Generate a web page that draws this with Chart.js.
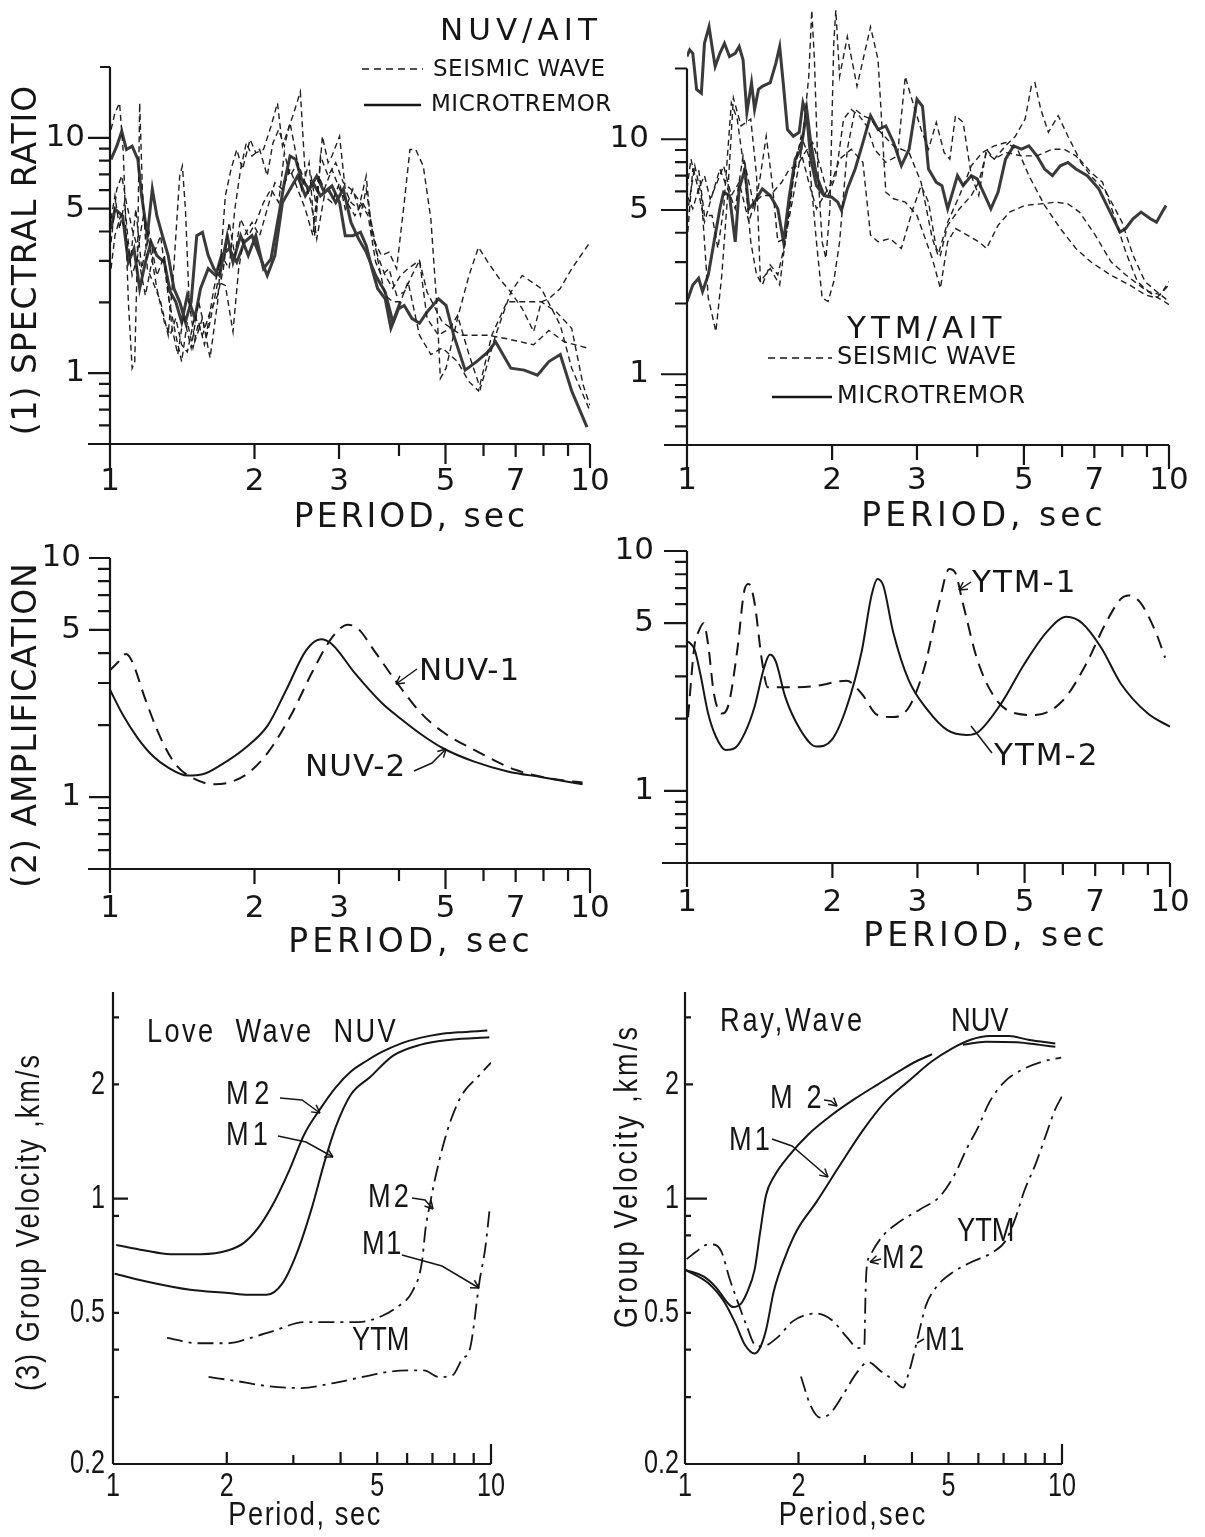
<!DOCTYPE html>
<html>
<head>
<meta charset="utf-8">
<script src="https://cdn.jsdelivr.net/npm/chart.js@4.4.1/dist/chart.umd.min.js"></script>
<style>
  body { margin: 0; background: #fff; }
  #page { position: relative; width: 1205px; height: 1537px; overflow: hidden; background: #fff; }
  #page canvas { position: absolute; left: 0; top: 0; }
</style>
</head>
<body>
<div id="page"></div>
<script>
// ---- tick labels ----
const periodLabels = [1, 2, 3, 5, 7, 10];
const ratioLabels = [10, 5, 1];
const velPeriodLabels = [1, 2, 5, 10];
const velLabels = [2, 1, 0.5, 0.2];

// ---- (1) spectral ratio NUV/AIT  [period, ratio] ----
const nuvMicro1 = [[1.005,8.10],[1.033,9.22],[1.058,10.67],[1.082,8.92],[1.112,9.22],[1.143,8.10],[1.164,5.67],[1.196,3.84],[1.225,6.05],[1.252,4.67],[1.286,3.84],[1.322,3.16],[1.359,2.29],[1.397,2.01],[1.436,1.65],[1.476,2.01],[1.516,3.84],[1.558,3.97],[1.602,3.16],[1.646,2.78],[1.692,2.60],[1.755,3.84],[1.804,2.96],[1.871,3.84],[1.941,3.16],[2.013,3.84],[2.088,2.78],[2.165,3.06],[2.246,4.67],[2.308,6.45],[2.372,8.37],[2.438,8.10],[2.506,6.67],[2.599,6.05],[2.696,6.89],[2.796,5.86],[2.900,6.25],[3.008,5.31],[3.091,3.84],[3.206,3.84],[3.325,3.97],[3.418,3.49],[3.513,2.78],[3.610,2.29],[3.744,2.07],[3.848,1.55],[3.991,1.88],[4.102,1.94],[4.255,1.71],[4.413,1.63],[4.577,1.82],[4.834,2.07],[5.013,1.94],[5.200,1.45],[5.494,1.03],[5.804,1.12],[6.130,1.23],[6.358,1.36],[6.840,1.05],[7.292,1.03],[7.772,0.98],[8.209,1.12],[8.671,1.20],[9.160,0.84],[9.856,0.59]];
const nuvMicro2 = [[1.005,4.10],[1.024,4.98],[1.062,4.67],[1.092,2.96],[1.122,3.38],[1.153,2.29],[1.185,2.96],[1.218,3.60],[1.252,3.16],[1.298,2.96],[1.335,2.21],[1.371,2.01],[1.410,1.65],[1.449,2.14],[1.502,1.71],[1.544,2.29],[1.602,2.78],[1.661,2.60],[1.707,3.16],[1.771,3.38],[1.837,2.96],[1.905,3.60],[1.976,3.84],[2.050,3.16],[2.126,2.60],[2.205,3.16],[2.287,5.31],[2.372,6.05],[2.460,6.89],[2.552,5.67],[2.647,6.45],[2.745,5.67],[2.847,6.05],[2.953,5.31],[3.063,6.05],[3.177,4.37],[3.295,3.72],[3.418,3.27],[3.577,2.60],[3.744,2.21],[3.883,1.65],[4.028,2.01]];
const nuvSeis1 = [[1.005,10.84],[1.024,12.76],[1.047,14.06],[1.066,8.64],[1.092,2.01],[1.112,1.05],[1.126,1.12],[1.143,3.84],[1.153,14.06],[1.168,6.05],[1.196,2.78],[1.229,2.44],[1.275,2.01],[1.322,1.45],[1.359,2.87],[1.397,6.89],[1.415,7.59],[1.436,4.98],[1.462,2.01],[1.502,1.36],[1.558,1.71],[1.616,1.16],[1.676,2.01],[1.739,5.67],[1.787,7.35],[1.837,8.92],[1.888,7.35],[1.958,9.84],[2.013,8.64],[2.088,8.92],[2.165,11.20],[2.233,14.06],[2.287,9.22],[2.350,10.84],[2.415,12.76],[2.492,15.7],[2.552,6.89],[2.623,6.89],[2.696,4.98],[2.770,10.16],[2.847,7.84],[2.900,8.37],[3.008,10.16],[3.091,6.05],[3.177,5.31],[3.295,4.98],[3.418,6.89],[3.513,3.84],[3.676,3.16],[3.813,3.27],[3.955,2.78],[4.102,5.31],[4.216,8.92],[4.333,8.92],[4.494,7.59],[4.661,4.52],[4.790,2.01],[4.878,0.95],[5.013,1.05],[5.296,1.71],[5.596,2.60],[5.857,3.43],[6.130,2.96],[6.476,2.52],[6.840,2.21],[7.225,1.88],[7.631,1.50],[7.915,2.01],[8.209,2.07],[8.671,2.29],[9.160,2.78],[10,3.60]];
const nuvSeis2 = [[1.005,4.52],[1.024,5.67],[1.047,4.10],[1.072,5.31],[1.102,2.96],[1.132,4.98],[1.164,2.78],[1.207,3.97],[1.252,2.60],[1.298,3.16],[1.347,1.55],[1.384,1.20],[1.423,1.76],[1.476,1.28],[1.530,2.01],[1.587,1.45],[1.646,2.29],[1.707,3.16],[1.771,2.78],[1.820,4.98],[1.871,7.35],[1.923,9.52],[1.976,8.37],[2.050,8.92],[2.126,6.89],[2.185,9.52],[2.246,10.84],[2.308,9.22],[2.372,11.57],[2.438,8.64],[2.506,6.05],[2.599,7.84],[2.671,3.84],[2.745,8.37],[2.847,6.89],[2.953,7.84],[3.063,6.45],[3.177,6.05],[3.325,5.31],[3.449,4.67],[3.577,2.96],[3.676,2.60],[3.813,2.78],[3.955,2.14],[4.102,2.21],[4.255,2.60],[4.413,3.01],[4.577,1.71],[4.834,1.45],[5.106,1.55],[5.296,1.76],[5.596,1.20],[5.910,0.86],[6.358,1.45],[6.840,2.21],[7.225,2.60],[7.915,2.29],[8.671,1.60],[9.160,1.05],[10,0.69]];
const nuvSeis3 = [[1.005,2.78],[1.024,3.84],[1.052,4.67],[1.082,3.84],[1.112,2.60],[1.143,3.16],[1.185,2.14],[1.229,3.16],[1.275,3.84],[1.322,2.14],[1.371,1.45],[1.410,1.12],[1.449,1.65],[1.489,1.28],[1.530,1.65],[1.573,1.32],[1.616,1.65],[1.676,2.44],[1.739,2.36],[1.804,1.50],[1.854,2.78],[1.905,3.84],[1.976,4.37],[2.050,3.84],[2.126,4.98],[2.205,6.45],[2.287,6.05],[2.372,7.35],[2.460,6.05],[2.552,4.98],[2.647,3.84],[2.720,6.89],[2.796,6.05],[2.900,7.35],[3.008,6.05],[3.120,5.31],[3.236,4.67],[3.356,5.31],[3.481,4.67],[3.610,3.16],[3.744,2.60],[3.883,2.29],[4.028,2.60],[4.178,2.78],[4.413,3.01],[4.577,2.21],[4.922,1.65],[5.395,1.45],[6.130,1.45],[6.716,1.40],[7.631,1.32],[8.209,1.52],[8.831,1.36],[10,1.27]];
const nuvSeis4 = [[1.005,3.60],[1.033,6.05],[1.058,6.89],[1.082,5.31],[1.112,4.10],[1.143,3.38],[1.174,4.67],[1.207,3.60],[1.252,2.29],[1.298,1.65],[1.335,1.45],[1.371,1.71],[1.410,1.32],[1.449,1.23],[1.502,1.76],[1.558,1.45],[1.616,1.82],[1.676,2.14],[1.723,2.78],[1.771,4.37],[1.820,3.16],[1.871,4.52],[1.941,3.84],[2.013,4.37],[2.088,5.31],[2.165,6.05],[2.246,5.31],[2.308,8.64],[2.372,6.89],[2.460,7.84],[2.552,6.45],[2.623,5.31],[2.696,3.72],[2.796,5.67],[2.900,5.31],[3.008,6.45],[3.091,4.98],[3.206,6.05],[3.325,4.67],[3.418,6.05],[3.513,4.10],[3.643,2.78],[3.744,2.14],[3.883,2.01],[4.028,2.01],[4.178,2.44],[4.413,1.45],[4.661,1.20],[4.922,1.28],[5.296,1.12],[5.596,0.92],[5.857,0.84],[6.243,1.45],[6.716,2.01],[7.359,2.01],[7.915,2.01],[8.514,1.82],[9.160,1.55],[9.676,0.89],[10,0.73]];

// ---- (1) spectral ratio YTM/AIT ----
const ytmMicro1 = [[1,22.5],[1.013,24.0],[1.028,23.2],[1.047,16.3],[1.071,15.7],[1.087,25.6],[1.111,30.1],[1.127,24.8],[1.144,20.4],[1.170,23.2],[1.196,25.6],[1.225,22.5],[1.259,23.2],[1.283,24.8],[1.307,21.8],[1.331,13.0],[1.361,17.4],[1.381,13.4],[1.407,16.3],[1.433,16.8],[1.488,17.4],[1.529,21.1],[1.557,24.8],[1.586,16.8],[1.616,11.0],[1.662,10.3],[1.709,10.7],[1.740,14.3],[1.772,12.6],[1.806,8.23],[1.856,6.35],[1.925,5.76],[1.997,5.67],[2.055,5.40],[2.092,4.98],[2.151,6.15],[2.233,7.47],[2.317,9.68],[2.403,12.6],[2.491,11.0],[2.585,11.4],[2.683,9.68],[2.784,7.71],[2.889,9.07],[3.0,14.8],[3.08,13.8],[3.17,7.47],[3.29,6.56],[3.38,6.35],[3.474,5.06],[3.54,5.76],[3.64,7.0],[3.74,6.35],[3.889,7.0],[4.0,6.78],[4.15,5.76],[4.27,5.06],[4.419,5.95],[4.58,8.23],[4.76,9.37],[4.94,9.07],[5.12,9.37],[5.32,8.50],[5.52,7.47],[5.73,7.0],[5.95,7.71],[6.17,7.97],[6.41,7.47],[6.77,7.0],[7.15,6.15],[7.55,4.90],[7.91,4.03],[8.13,4.17],[8.42,4.59],[8.75,4.90],[9.15,4.59],[9.42,4.44],[9.68,4.90],[9.86,5.23]];
const ytmMicro2 = [[1,2.04],[1.028,2.40],[1.057,2.56],[1.077,2.25],[1.107,2.65],[1.138,3.66],[1.170,5.06],[1.191,5.95],[1.225,5.76],[1.259,3.66],[1.283,6.15],[1.319,7.47],[1.344,5.06],[1.381,5.40],[1.433,6.15],[1.488,5.76],[1.543,5.06],[1.586,3.66],[1.631,5.76],[1.677,8.23],[1.725,9.07],[1.772,13.4],[1.806,9.68],[1.856,7.0],[1.925,5.76]];
const ytmSeis1 = [[1,4.74],[1.038,7.71],[1.071,5.76],[1.107,2.11],[1.148,1.52],[1.181,2.65],[1.214,5.76],[1.248,15.0],[1.295,11.4],[1.356,12.2],[1.394,7.0],[1.420,2.48],[1.488,2.82],[1.557,2.40],[1.631,5.06],[1.692,8.78],[1.740,10.3],[1.789,18.5],[1.815,35.4],[1.838,21.8],[1.871,7.0],[1.907,3.66],[1.942,3.11],[1.979,5.06],[2.016,25.6],[2.036,35.4],[2.073,18.5],[2.151,27.3],[2.253,16.8],[2.403,30.1],[2.491,21.8],[2.585,5.95],[2.683,5.58],[2.837,5.40],[3.0,4.74],[3.228,3.11],[3.355,2.32],[3.474,3.66],[3.606,4.17],[3.813,3.91],[4.033,3.66],[4.182,3.43],[4.419,4.30],[4.668,4.90],[5.03,5.23],[5.42,5.31],[5.82,5.40],[6.17,5.31],[6.52,4.90],[7.03,3.91],[7.58,3.01],[8.13,2.65],[8.75,2.36],[9.26,2.18],[10,1.98]];
const ytmSeis2 = [[1,3.66],[1.028,7.47],[1.057,7.47],[1.087,4.74],[1.127,4.74],[1.159,3.43],[1.191,5.06],[1.236,14.3],[1.271,12.2],[1.319,7.0],[1.356,3.66],[1.394,2.65],[1.433,2.40],[1.488,2.92],[1.543,2.65],[1.600,3.66],[1.662,7.0],[1.725,10.3],[1.789,8.50],[1.856,3.66],[1.907,2.11],[1.962,2.04],[2.016,2.48],[2.073,3.66],[2.151,9.07],[2.233,13.4],[2.317,12.6],[2.403,12.2],[2.491,11.0],[2.683,9.37],[2.889,8.78],[3.06,6.56],[3.228,3.78],[3.317,3.21],[3.474,4.44],[3.676,5.76],[3.889,7.71],[4.10,8.78],[4.34,9.37],[4.58,9.68],[4.85,9.07],[5.12,7.0],[5.52,5.23],[5.95,4.17],[6.41,3.43],[6.88,3.01],[7.55,2.65],[8.28,2.40],[8.92,2.18],[9.42,2.11],[10,2.40]];
const ytmSeis3 = [[1,5.76],[1.028,5.06],[1.057,6.15],[1.087,7.0],[1.117,5.58],[1.148,6.35],[1.191,7.71],[1.236,5.76],[1.283,6.56],[1.344,4.44],[1.381,5.40],[1.433,5.76],[1.488,5.76],[1.572,6.56],[1.631,7.47],[1.692,7.71],[1.756,8.78],[1.822,9.68],[1.889,7.71],[1.962,5.76],[2.036,7.0],[2.113,12.2],[2.192,13.4],[2.275,12.6],[2.360,11.4],[2.449,9.07],[2.585,7.97],[2.733,8.50],[2.837,18.5],[2.916,15.2],[3.06,11.0],[3.17,9.07],[3.29,11.8],[3.415,8.78],[3.51,8.23],[3.606,12.6],[3.74,11.8],[3.889,7.0],[4.03,5.76],[4.18,9.07],[4.34,8.23],[4.58,9.37],[4.80,10.3],[5.03,12.2],[5.18,16.8],[5.27,17.4],[5.42,13.4],[5.62,10.7],[5.89,12.6],[6.17,10.3],[6.52,8.23],[6.88,7.24],[7.28,6.56],[7.69,4.74],[8.13,3.32],[8.6,2.48],[9.07,2.25],[9.6,2.18],[10,2.48]];
const ytmSeis4 = [[1,6.15],[1.019,8.23],[1.047,6.56],[1.087,4.44],[1.127,5.76],[1.170,7.47],[1.214,6.15],[1.259,5.06],[1.307,8.50],[1.344,6.56],[1.381,5.06],[1.420,7.0],[1.460,10.3],[1.502,6.56],[1.543,3.66],[1.600,3.78],[1.662,5.76],[1.725,8.78],[1.789,6.56],[1.856,5.06],[1.925,5.76],[1.997,6.56],[2.073,8.23],[2.192,9.07],[2.317,7.97],[2.403,3.91],[2.491,3.66],[2.637,3.78],[2.784,3.43],[2.943,5.06],[3.06,6.35],[3.17,5.40],[3.29,3.43],[3.355,3.21],[3.474,4.30],[3.676,5.06],[3.889,5.76],[4.03,6.56],[4.18,8.78],[4.34,8.23],[4.58,8.78],[4.94,8.50],[5.32,8.50],[5.73,9.07],[6.06,9.07],[6.41,8.50],[6.88,7.0],[7.41,5.95],[7.99,4.44],[8.42,3.21],[8.92,2.48],[9.42,2.25],[10,2.04]];

// ---- (2) amplification ----
const nuvAmp1 = [[1,3.39],[1.04,3.67],[1.08,3.97],[1.11,3.72],[1.185,2.56],[1.276,1.76],[1.37,1.37],[1.50,1.19],[1.65,1.13],[1.77,1.15],[1.94,1.26],[2.13,1.53],[2.38,2.19],[2.65,3.39],[2.90,4.64],[3.13,5.26],[3.30,5.02],[3.55,4.10],[3.97,2.99],[4.43,2.26],[4.94,1.87],[5.83,1.55],[6.99,1.30],[8.38,1.19],[9.65,1.15]];
const nuvAmp2 = [[1,2.81],[1.062,2.22],[1.143,1.76],[1.23,1.48],[1.32,1.33],[1.45,1.23],[1.56,1.245],[1.71,1.37],[1.91,1.60],[2.13,1.99],[2.33,2.81],[2.56,4.10],[2.75,4.57],[2.90,4.36],[3.24,3.29],[3.68,2.48],[4.04,2.12],[4.43,1.84],[4.94,1.60],[5.72,1.41],[6.74,1.28],[7.95,1.21],[9.65,1.13]];
const ytmAmp1 = [[1.005,2.03],[1.037,4.07],[1.057,4.62],[1.082,5.0],[1.106,4.07],[1.137,2.54],[1.18,2.10],[1.22,2.30],[1.27,3.82],[1.317,6.96],[1.342,7.29],[1.379,6.13],[1.43,3.47],[1.47,2.70],[1.66,2.70],[1.85,2.74],[2.14,2.88],[2.30,2.54],[2.48,2.07],[2.67,2.03],[2.88,2.23],[3.10,3.26],[3.33,6.13],[3.49,8.41],[3.59,8.14],[3.72,6.13],[4.00,3.47],[4.38,2.38],[4.81,2.10],[5.27,2.07],[6.0,2.38],[6.70,3.37],[7.33,4.92],[7.92,6.33],[8.2,6.53],[8.66,6.13],[9.33,4.62],[9.77,3.59]];
const ytmAmp2 = [[1.005,4.20],[1.037,3.88],[1.066,3.06],[1.106,2.10],[1.148,1.68],[1.202,1.48],[1.258,1.51],[1.317,1.74],[1.379,2.23],[1.444,3.26],[1.485,3.70],[1.526,3.47],[1.598,2.46],[1.719,1.79],[1.851,1.53],[1.994,1.63],[2.14,2.23],[2.30,3.82],[2.41,6.53],[2.48,7.65],[2.55,7.16],[2.67,4.62],[2.88,2.88],[3.15,2.17],[3.46,1.79],[3.79,1.71],[4.01,1.76],[4.47,2.31],[4.99,3.37],[5.57,4.62],[6.11,5.32],[6.58,5.0],[7.21,3.94],[7.92,2.79],[9.0,2.10],[10,1.85]];

// ---- (3) group velocity, Love wave ----
const loveNuvM2 = [[1.02,0.755],[1.205,0.731],[1.42,0.714],[1.71,0.714],[2.02,0.731],[2.21,0.762],[2.43,0.841],[2.67,0.979],[2.93,1.19],[3.21,1.48],[3.53,1.72],[3.88,1.96],[4.26,2.16],[4.67,2.30],[5.13,2.43],[5.77,2.56],[6.49,2.65],[7.29,2.71],[8.19,2.74],[9.78,2.77]];
const loveNuvM1 = [[1.01,0.634],[1.26,0.601],[1.60,0.575],[2.02,0.564],[2.27,0.558],[2.55,0.558],[2.80,0.596],[3.07,0.722],[3.37,0.957],[3.62,1.24],[3.88,1.54],[4.26,1.88],[4.79,2.09],[5.51,2.38],[6.49,2.54],[7.83,2.62],[9.9,2.66]];
const loveYtmM2 = [[1.39,0.43],[1.67,0.416],[2.02,0.416],[2.32,0.43],[2.67,0.449],[3.21,0.473],[3.79,0.473],[4.46,0.473],[5.13,0.49],[5.63,0.517],[6.19,0.569],[6.56,0.677],[6.72,0.841],[6.88,0.957],[7.13,1.14],[7.47,1.38],[7.83,1.61],[8.39,1.88],[9.22,2.09],[10,2.28]];
const loveYtmM1 = [[1.79,0.339],[2.11,0.331],[2.55,0.321],[3.15,0.317],[3.79,0.326],[4.57,0.339],[5.38,0.35],[6.19,0.353],[6.64,0.353],[7.29,0.339],[7.92,0.343],[8.39,0.378],[8.8,0.403],[9.33,0.608],[9.65,0.737],[9.94,0.957]];

// ---- (3) group velocity, Rayleigh wave ----
const rayNuvM2 = [[1,0.65],[1.125,0.622],[1.21,0.583],[1.30,0.53],[1.34,0.518],[1.41,0.53],[1.46,0.565],[1.53,0.65],[1.58,0.807],[1.64,1.02],[1.72,1.14],[1.89,1.30],[2.13,1.48],[2.45,1.66],[2.82,1.83],[3.25,2.0],[3.74,2.18],[4.11,2.30],[4.52,2.40]];
const rayNuvM2b = [[5.46,2.54],[6.29,2.59],[7.59,2.58],[8.74,2.54],[9.6,2.51]];
const rayNuvM1 = [[1,0.65],[1.15,0.60],[1.27,0.535],[1.36,0.47],[1.44,0.413],[1.53,0.391],[1.58,0.404],[1.64,0.45],[1.72,0.57],[1.85,0.708],[1.98,0.824],[2.23,0.979],[2.57,1.22],[2.96,1.51],[3.40,1.80],[3.92,2.04],[4.52,2.30],[5.09,2.48],[5.72,2.62],[6.43,2.68],[7.24,2.68],[8.14,2.62],[9.6,2.56]];
const rayYtmM2 = [[1.01,0.693],[1.07,0.724],[1.14,0.755],[1.19,0.757],[1.25,0.724],[1.31,0.62],[1.39,0.524],[1.46,0.46],[1.53,0.413],[1.60,0.408],[1.76,0.431],[1.93,0.475],[2.13,0.496],[2.23,0.498],[2.45,0.479],[2.69,0.431],[2.88,0.404],[2.99,0.408],[3.01,0.547],[3.03,0.65],[3.10,0.708],[3.32,0.79],[3.66,0.861],[4.21,0.938],[4.73,1.01],[5.20,1.16],[5.58,1.35],[5.99,1.54],[6.43,1.80],[7.07,2.04],[7.95,2.20],[8.94,2.30],[9.95,2.35]];
const rayYtmM1 = [[2.03,0.34],[2.15,0.286],[2.28,0.265],[2.42,0.271],[2.63,0.305],[2.85,0.347],[3.06,0.371],[3.32,0.35],[3.57,0.333],[3.79,0.318],[3.92,0.347],[4.06,0.395],[4.21,0.46],[4.36,0.524],[4.63,0.583],[5.09,0.636],[5.72,0.679],[6.58,0.724],[7.07,0.772],[7.5,0.88],[7.95,1.05],[8.53,1.24],[9.15,1.51],[9.6,1.72],[10,1.86]];

// ---------------------------------------------------------------
const tech = '"DejaVu Sans", "Liberation Sans", sans-serif';
const plain = '"Liberation Sans", Arial, sans-serif';
const INK = '#161616';
const NARROW = 0.8;   // horizontal squeeze for the narrow lettering of (3)

const dashSeis = { borderDash: [6, 4], borderWidth: 1.4, borderColor: '#202020', tension: 0 };
const solidMicro = { borderWidth: 3, borderColor: '#3a3a3a', tension: 0 };
const dashAmp = { borderDash: [13, 8], borderWidth: 2, borderColor: INK, cubicInterpolationMode: 'monotone' };
const solidAmp = { borderWidth: 2, borderColor: INK, cubicInterpolationMode: 'monotone' };
const dashDot = { borderDash: [16, 6, 3, 6], borderWidth: 1.8, borderColor: INK, cubicInterpolationMode: 'monotone' };
const solidVel = { borderWidth: 2, borderColor: INK, cubicInterpolationMode: 'monotone' };

const xTicksOut = [[1,24],[2,15],[3,15],[4,12],[5,20],[6,12],[7,13],[8,12],[9,12],[10,24]];
const xTicksIn = [[2,12],[3,9],[4,12],[5,12],[6,11],[7,11],[8,11],[9,11],[10,20]];
const minorRatio = [9, 8, 7, 6, 4, 3, 2, 0.9, 0.8, 0.7, 0.6];

function drawText(ctx, t) {
  ctx.save();
  ctx.font = t.f;
  ctx.letterSpacing = (t.ls || 0) + 'px';
  ctx.textAlign = t.a || 'left';
  ctx.textBaseline = 'middle';
  ctx.fillStyle = INK;
  ctx.translate(t.x, t.y);
  if (t.r) ctx.rotate(t.r * Math.PI / 180);
  if (t.sx) ctx.scale(t.sx, 1);
  ctx.fillText(t.s, 0, 0);
  ctx.restore();
}

function drawPath(ctx, p) {
  ctx.save();
  ctx.strokeStyle = INK;
  ctx.lineWidth = p.w || 1.6;
  ctx.setLineDash(p.dash || []);
  ctx.beginPath();
  p.pts.forEach(([x, y], i) => i ? ctx.lineTo(x, y) : ctx.moveTo(x, y));
  ctx.stroke();
  if (p.head) {
    const [xa, ya] = p.pts[p.pts.length - 2], [xb, yb] = p.pts[p.pts.length - 1];
    const ang = Math.atan2(yb - ya, xb - xa);
    ctx.setLineDash([]);
    ctx.beginPath();
    [0.5, -0.5].forEach(d => {
      ctx.moveTo(xb, yb);
      ctx.lineTo(xb - 9 * Math.cos(ang + d), yb - 9 * Math.sin(ang + d));
    });
    ctx.stroke();
  }
  ctx.restore();
}

// axes, ticks and annotations drawn through the chart's own scales
function figAxes(ax) {
  return {
    id: 'figAxes',
    afterDraw(chart) {
      const ctx = chart.ctx, xs = chart.scales.x, ys = chart.scales.y;
      const x0 = xs.getPixelForValue(1), x1 = xs.getPixelForValue(10);
      const yb = ys.getPixelForValue(ax.yBottom), yt = ys.getPixelForValue(ax.yTop);
      ctx.save();
      ctx.strokeStyle = INK;
      ctx.lineWidth = 2.2;
      ctx.beginPath();
      ctx.moveTo(x0, yt); ctx.lineTo(x0, yb);
      ctx.moveTo(x0 - ax.xExt, yb); ctx.lineTo(x1, yb);
      ax.yTicks.forEach(([v, len]) => {
        const p = ys.getPixelForValue(v);
        ctx.moveTo(x0, p); ctx.lineTo(x0 + ax.yDir * len, p);
      });
      ax.xTicks.forEach(([v, len]) => {
        const p = xs.getPixelForValue(v);
        ctx.moveTo(p, yb); ctx.lineTo(p, yb + ax.xDir * len);
      });
      ctx.stroke();
      ctx.restore();
      ax.yLabels.forEach(v => drawText(ctx, { s: String(v), f: ax.tickFont, sx: ax.tickSx, a: 'right', x: x0 - ax.yGap, y: ys.getPixelForValue(v) }));
      ax.xLabels.forEach(v => drawText(ctx, { s: String(v), f: ax.tickFont, sx: ax.tickSx, a: 'center', x: xs.getPixelForValue(v), y: yb + ax.xGap }));
      (ax.paths || []).forEach(p => drawPath(ctx, p));
      (ax.texts || []).forEach(t => drawText(ctx, t));
    }
  };
}

const f23 = '23px ' + tech, f24 = '24px ' + tech, f31 = '31px ' + tech, f33 = '33px ' + tech;
const n34 = '34px ' + plain;

const panels = [
  { // (1) NUV/AIT
    pad: { left: 110, right: 615, top: 67, bottom: 1093 }, yMin: 0.5, yMax: 20,
    sets: [[nuvSeis1, dashSeis], [nuvSeis2, dashSeis], [nuvSeis3, dashSeis], [nuvSeis4, dashSeis], [nuvMicro2, solidMicro], [nuvMicro1, solidMicro]],
    axes: {
      yBottom: 0.5, yTop: 20, xExt: 22, yDir: -1, xDir: 1, yGap: 25, xGap: 38, tickFont: f31,
      yTicks: [[20, 10], [10, 22], [5, 22], [1, 22]].concat(minorRatio.map(v => [v, 11])),
      xTicks: xTicksOut, yLabels: ratioLabels, xLabels: periodLabels,
      paths: [{ pts: [[362, 69], [423, 69]], dash: [7, 5], w: 1.5 }, { pts: [[364, 105], [421, 105]], w: 2.5 }],
      texts: [
        { s: 'NUV/AIT', f: f31, ls: 5, x: 440, y: 32 },
        { s: 'SEISMIC WAVE', f: f23, ls: 0.5, x: 433, y: 70 },
        { s: 'MICROTREMOR', f: f23, ls: 0.5, x: 431, y: 105 },
        { s: 'PERIOD, sec', f: f33, ls: 3, a: 'center', x: 411, y: 518 },
        { s: '(1) SPECTRAL RATIO', f: f33, ls: 1, a: 'center', x: 27, y: 260, r: -90 }
      ]
    }
  },
  { // (1) YTM/AIT
    pad: { left: 687, right: 36, top: 3, bottom: 1092 }, yMin: 0.5, yMax: 38,
    sets: [[ytmSeis1, dashSeis], [ytmSeis2, dashSeis], [ytmSeis3, dashSeis], [ytmSeis4, dashSeis], [ytmMicro2, solidMicro], [ytmMicro1, solidMicro]],
    axes: {
      yBottom: 0.5, yTop: 20, xExt: 23, yDir: -1, xDir: 1, yGap: 38, xGap: 36, tickFont: f31,
      yTicks: [[20, 12], [10, 26], [5, 26], [1, 26]].concat(minorRatio.map(v => [v, 12])),
      xTicks: xTicksOut, yLabels: ratioLabels, xLabels: periodLabels,
      paths: [{ pts: [[768, 358], [832, 358]], dash: [7, 5], w: 1.5 }, { pts: [[772, 397], [832, 397]], w: 2.5 }],
      texts: [
        { s: 'YTM/AIT', f: f31, ls: 5, x: 847, y: 330 },
        { s: 'SEISMIC WAVE', f: f24, ls: 0.5, x: 837, y: 358 },
        { s: 'MICROTREMOR', f: f24, ls: 0.5, x: 837, y: 397 },
        { s: 'PERIOD, sec', f: f33, ls: 4, a: 'center', x: 984, y: 517 }
      ]
    }
  },
  { // (2) NUV
    pad: { left: 110, right: 615, top: 558, bottom: 668 }, yMin: 0.5, yMax: 10,
    sets: [[nuvAmp1, dashAmp], [nuvAmp2, solidAmp]],
    axes: {
      yBottom: 0.5, yTop: 10, xExt: 22, yDir: -1, xDir: 1, yGap: 29, xGap: 40, tickFont: f31,
      yTicks: [[10, 21], [5, 21], [1, 21]].concat(minorRatio.map(v => [v, 12])),
      xTicks: xTicksOut, yLabels: ratioLabels, xLabels: periodLabels,
      paths: [{ pts: [[417, 669], [396, 684]], head: true, w: 1.5 }, { pts: [[414, 771], [432, 763], [446, 749]], head: true, w: 1.5 }],
      texts: [
        { s: 'NUV-1', f: f31, ls: 1, x: 419, y: 672 },
        { s: 'NUV-2', f: f31, ls: 1, x: 305, y: 768 },
        { s: 'PERIOD, sec', f: f33, ls: 4, a: 'center', x: 411, y: 943 },
        { s: '(2) AMPLIFICATION', f: f33, ls: 1, a: 'center', x: 27, y: 725, r: -90 }
      ]
    }
  },
  { // (2) YTM
    pad: { left: 687, right: 35, top: 551, bottom: 674 }, yMin: 0.5, yMax: 10,
    sets: [[ytmAmp1, dashAmp], [ytmAmp2, solidAmp]],
    axes: {
      yBottom: 0.5, yTop: 10, xExt: 25, yDir: -1, xDir: 1, yGap: 33, xGap: 40, tickFont: f31,
      yTicks: [[10, 23], [5, 23], [1, 23]].concat(minorRatio.map(v => [v, 12])),
      xTicks: xTicksOut, yLabels: ratioLabels, xLabels: periodLabels,
      paths: [{ pts: [[971, 582], [959, 590]], head: true, w: 1.5 }, { pts: [[992, 753], [971, 726]], w: 1.5 }],
      texts: [
        { s: 'YTM-1', f: f31, ls: 2, x: 972, y: 584 },
        { s: 'YTM-2', f: f31, ls: 2, x: 994, y: 757 },
        { s: 'PERIOD, sec', f: f33, ls: 4, a: 'center', x: 986, y: 937 }
      ]
    }
  },
  { // (3) Love wave
    pad: { left: 113, right: 714, top: 992, bottom: 73 }, yMin: 0.2, yMax: 3.5,
    sets: [[loveYtmM2, dashDot], [loveYtmM1, dashDot], [loveNuvM2, solidVel], [loveNuvM1, solidVel]],
    axes: {
      yBottom: 0.2, yTop: 3.5, xExt: 0, yDir: 1, xDir: -1, yGap: 8, xGap: 23, tickFont: n34, tickSx: 0.74,
      yTicks: [[3, 6], [2, 6], [1, 15], [0.9, 6], [0.5, 6], [0.4, 6], [0.3, 6]],
      xTicks: xTicksIn, yLabels: velLabels, xLabels: velPeriodLabels,
      paths: [
        { pts: [[280, 1098], [302, 1100], [320, 1113]], head: true, w: 1.5 },
        { pts: [[278, 1136], [306, 1142], [333, 1157]], head: true, w: 1.5 },
        { pts: [[412, 1198], [425, 1200], [433, 1209]], head: true, w: 1.5 },
        { pts: [[402, 1255], [442, 1266], [479, 1288]], head: true, w: 1.5 }
      ],
      texts: [
        { s: 'Love  Wave  NUV', f: n34, sx: NARROW, ls: 3, x: 147, y: 1033 },
        { s: 'M2', f: n34, sx: NARROW, ls: 7, x: 226, y: 1095 },
        { s: 'M1', f: n34, sx: NARROW, ls: 5, x: 226, y: 1136 },
        { s: 'M2', f: n34, sx: NARROW, ls: 4, x: 368, y: 1198 },
        { s: 'M1', f: n34, sx: NARROW, ls: 2, x: 362, y: 1245 },
        { s: 'YTM', f: n34, sx: NARROW, ls: 0, x: 352, y: 1341 },
        { s: 'Period, sec', f: n34, sx: NARROW, ls: 2, a: 'center', x: 305, y: 1516 },
        { s: '(3) Group Velocity ,km/s', f: n34, sx: NARROW, ls: 2.5, a: 'center', x: 30, y: 1222, r: -90 }
      ]
    }
  },
  { // (3) Rayleigh wave
    pad: { left: 685, right: 143, top: 992, bottom: 73 }, yMin: 0.2, yMax: 3.5,
    sets: [[rayYtmM2, dashDot], [rayYtmM1, dashDot], [rayNuvM2, solidVel], [rayNuvM2b, solidVel], [rayNuvM1, solidVel]],
    axes: {
      yBottom: 0.2, yTop: 3.5, xExt: 0, yDir: 1, xDir: -1, yGap: 6, xGap: 23, tickFont: n34, tickSx: 0.74,
      yTicks: [[3, 6], [2, 8], [1, 22], [0.9, 6], [0.8, 6], [0.5, 6], [0.4, 6], [0.3, 6]],
      xTicks: xTicksIn, yLabels: velLabels, xLabels: velPeriodLabels,
      paths: [
        { pts: [[824, 1100], [831, 1101], [837, 1106]], head: true, w: 1.5 },
        { pts: [[772, 1139], [792, 1146], [828, 1177]], head: true, w: 1.5 },
        { pts: [[881, 1259], [870, 1262]], head: true, w: 1.5 },
        { pts: [[924, 1339], [917, 1343]], w: 1.5 }
      ],
      texts: [
        { s: 'Ray,Wave', f: n34, sx: NARROW, ls: 3.5, x: 720, y: 1022 },
        { s: 'NUV', f: n34, sx: NARROW, ls: 0, x: 951, y: 1022 },
        { s: 'M 2', f: n34, sx: NARROW, ls: 4, x: 770, y: 1099 },
        { s: 'M1', f: n34, sx: NARROW, ls: 4, x: 729, y: 1141 },
        { s: 'YTM', f: n34, sx: NARROW, ls: 0, x: 957, y: 1232 },
        { s: 'M2', f: n34, sx: NARROW, ls: 5, x: 882, y: 1259 },
        { s: 'M1', f: n34, sx: NARROW, ls: 2, x: 925, y: 1341 },
        { s: 'Period,sec', f: n34, sx: NARROW, ls: 2.5, a: 'center', x: 853, y: 1516 },
        { s: 'Group Velocity ,km/s', f: n34, sx: NARROW, ls: 3.4, a: 'center', x: 628, y: 1176, r: -90 }
      ]
    }
  }
];

const page = document.getElementById('page');
panels.forEach(p => {
  const canvas = document.createElement('canvas');
  canvas.width = 1205;
  canvas.height = 1537;
  page.appendChild(canvas);
  new Chart(canvas, {
    type: 'line',
    data: {
      datasets: p.sets.map(([pts, style]) => Object.assign({
        data: pts.map(([x, y]) => ({ x: x, y: y })),
        pointRadius: 0,
        fill: false
      }, style))
    },
    options: {
      responsive: false,
      animation: false,
      devicePixelRatio: 1,
      layout: { padding: p.pad },
      scales: {
        x: { type: 'logarithmic', min: 1, max: 10, bounds: 'data', display: false },
        y: { type: 'logarithmic', min: p.yMin, max: p.yMax, bounds: 'data', display: false }
      },
      plugins: { legend: { display: false }, tooltip: { enabled: false } }
    },
    plugins: [figAxes(p.axes)]
  });
});
</script>
</body>
</html>
